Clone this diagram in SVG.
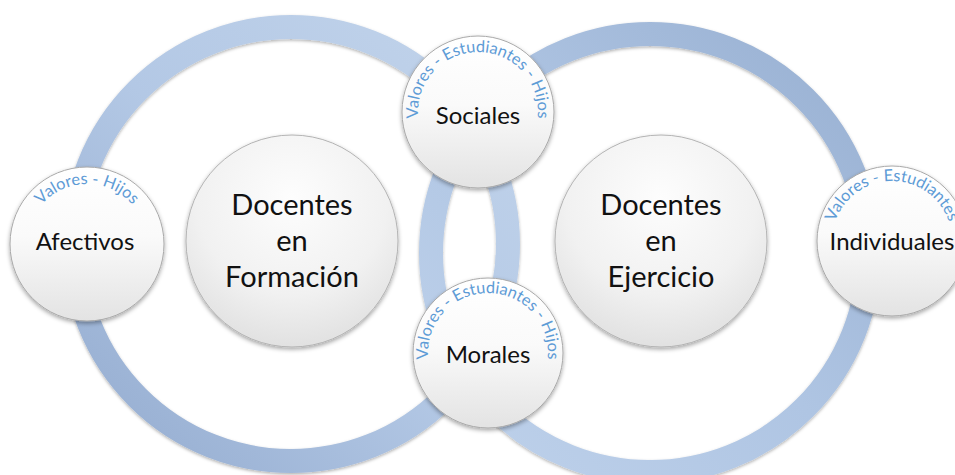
<svg xmlns="http://www.w3.org/2000/svg" width="955" height="475" viewBox="0 0 955 475">
<style>
.lbl{font-family:Lato,"Liberation Sans",sans-serif;fill:#111;text-anchor:middle}
.big{font-size:29px}
.sm{font-size:24px}
.arc{font-family:Lato,"Liberation Sans",sans-serif;font-size:16.3px;fill:#5d9bd6;text-anchor:middle}
.node{fill:url(#nodeGrad);stroke:#a9a9a9;stroke-width:1;filter:url(#sh)}
.bignode{fill:url(#bigGrad);stroke:#b3b3b3;stroke-width:1;filter:url(#sh)}
.ring{fill:none;stroke-width:24;filter:url(#rsh)}
</style>
<defs>
<linearGradient id="gL" x1="1" y1="0" x2="0" y2="1">
<stop offset="0" stop-color="#c2d4eb"/>
<stop offset="0.5" stop-color="#b3c8e5"/>
<stop offset="1" stop-color="#93abcf"/>
</linearGradient>
<linearGradient id="gR" x1="1" y1="0" x2="0" y2="1">
<stop offset="0" stop-color="#97afd1"/>
<stop offset="0.5" stop-color="#afc5e3"/>
<stop offset="1" stop-color="#bfd2eb"/>
</linearGradient>
<linearGradient id="nodeGrad" x1="0" y1="0" x2="0" y2="1">
<stop offset="0" stop-color="#ffffff"/>
<stop offset="0.45" stop-color="#fafafa"/>
<stop offset="1" stop-color="#e3e3e3"/>
</linearGradient>
<radialGradient id="bigGrad" cx="0.5" cy="0.3" r="0.75">
<stop offset="0" stop-color="#fdfdfd"/>
<stop offset="0.6" stop-color="#f1f1f1"/>
<stop offset="1" stop-color="#dedede"/>
</radialGradient>
<filter id="sh" x="-20%" y="-20%" width="140%" height="140%">
<feDropShadow dx="0" dy="2" stdDeviation="2" flood-color="#000" flood-opacity="0.35"/>
</filter>
<filter id="rsh" x="-10%" y="-10%" width="120%" height="120%">
<feDropShadow dx="0" dy="1.5" stdDeviation="1.5" flood-color="#000" flood-opacity="0.3"/>
</filter>
<path id="pSoc" d="M 421.6,132.5 A 60 60 0 1 1 534.4,132.5"/>
<path id="pMor" d="M 431.6,373.5 A 60 60 0 1 1 544.4,373.5"/>
<path id="pAfe" d="M 30.6,264.5 A 60 60 0 1 1 143.4,264.5"/>
<path id="pInd" d="M 835.6,261.5 A 60 60 0 1 1 948.4,261.5"/>
</defs>

<g id="rings">
<circle class="ring" cx="291" cy="244" r="217" stroke="url(#gL)"/>
<circle class="ring" cx="650" cy="253" r="219" stroke="url(#gR)"/>
</g>

<g id="docentes-formacion">
<circle class="bignode" cx="292" cy="241" r="106"/>
<text class="lbl big" x="292" y="215">Docentes</text>
<text class="lbl big" x="292" y="251">en</text>
<text class="lbl big" x="292" y="287">Formación</text>
</g>

<g id="docentes-ejercicio">
<circle class="bignode" cx="661" cy="241" r="106"/>
<text class="lbl big" x="661" y="215">Docentes</text>
<text class="lbl big" x="661" y="251">en</text>
<text class="lbl big" x="661" y="287">Ejercicio</text>
</g>

<g id="sociales">
<circle class="node" cx="478" cy="112" r="76"/>
<text class="arc"><textPath href="#pSoc" startOffset="50%">Valores - Estudiantes - Hijos</textPath></text>
<text class="lbl sm" x="478" y="124">Sociales</text>
</g>

<g id="morales">
<circle class="node" cx="488" cy="353" r="75"/>
<text class="arc"><textPath href="#pMor" startOffset="50%">Valores - Estudiantes - Hijos</textPath></text>
<text class="lbl sm" x="488" y="363">Morales</text>
</g>

<g id="afectivos">
<circle class="node" cx="87" cy="244" r="77"/>
<text class="arc"><textPath href="#pAfe" startOffset="50%">Valores - Hijos</textPath></text>
<text class="lbl sm" x="85" y="250">Afectivos</text>
</g>

<g id="individuales">
<circle class="node" cx="892" cy="241" r="75"/>
<text class="arc"><textPath href="#pInd" startOffset="50%">Valores - Estudiantes</textPath></text>
<text class="lbl sm" x="892" y="250">Individuales</text>
</g>
</svg>
